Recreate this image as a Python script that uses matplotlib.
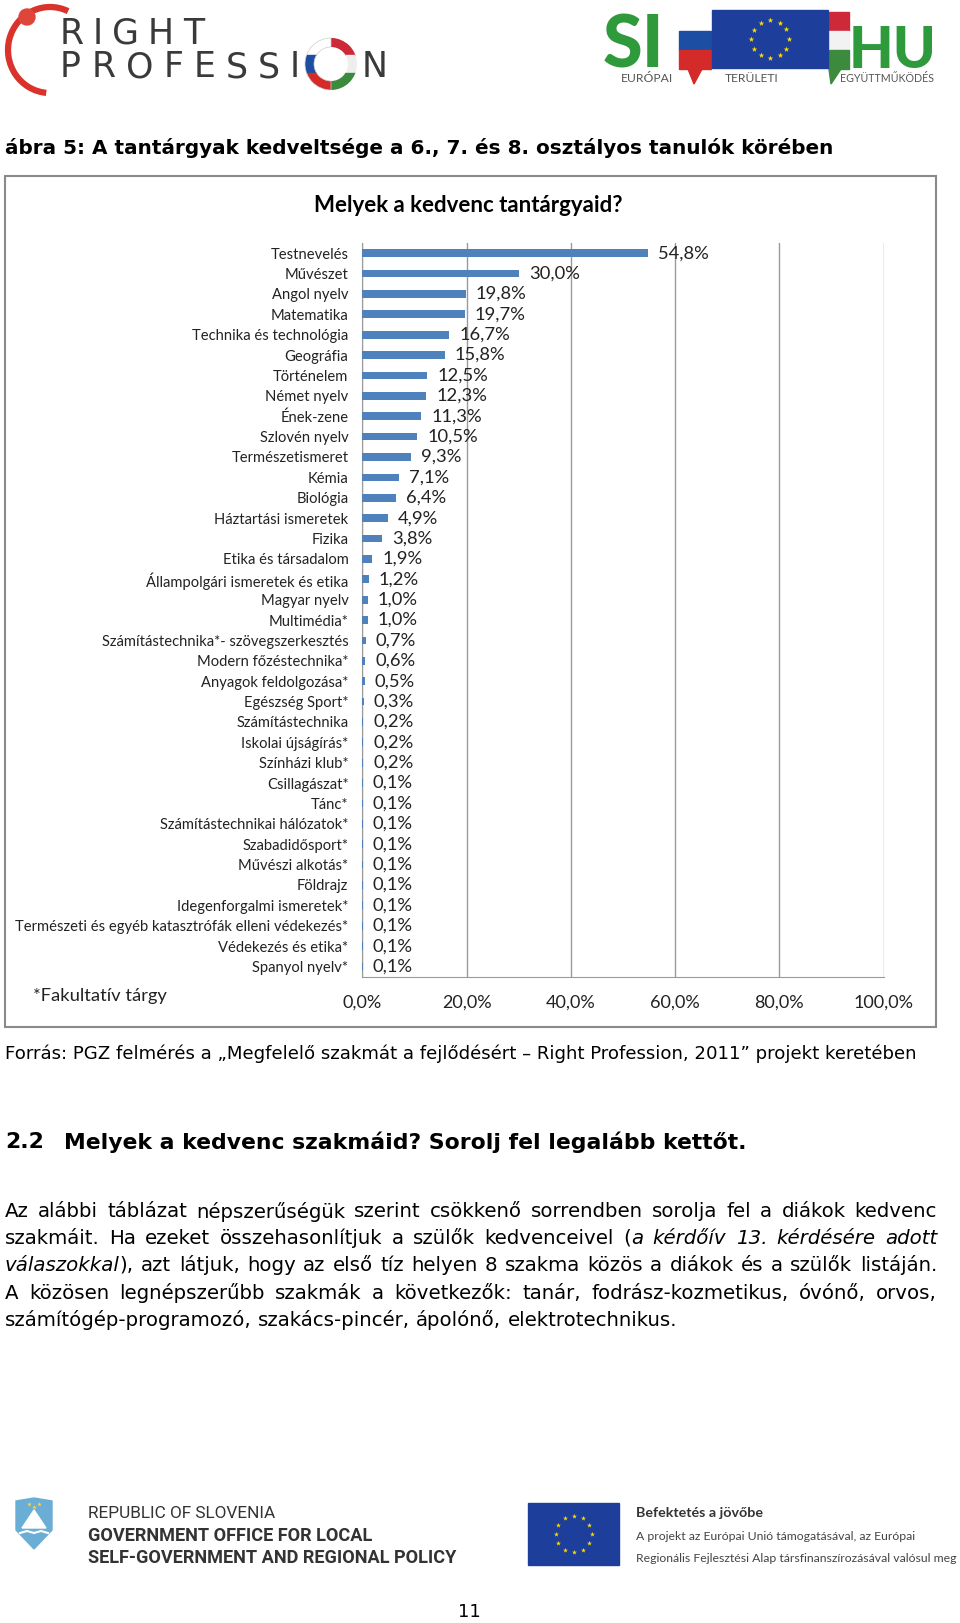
import numpy as np
import matplotlib
matplotlib.use("Agg")
import matplotlib.pyplot as plt
from matplotlib.patches import Rectangle, Circle, Wedge, Polygon, Arc

# chart data
subjects = [
    "Testnevelés", "Művészet", "Angol nyelv", "Matematika", "Technika és technológia",
    "Geográfia", "Történelem", "Német nyelv", "Ének-zene", "Szlovén nyelv",
    "Természetismeret", "Kémia", "Biológia", "Háztartási ismeretek", "Fizika",
    "Etika és társadalom", "Állampolgári ismeretek és etika", "Magyar nyelv", "Multimédia*",
    "Számítástechnika*- szövegszerkesztés", "Modern főzéstechnika*", "Anyagok feldolgozása*",
    "Egészség Sport*", "Számítástechnika", "Iskolai újságírás*", "Színházi klub*",
    "Csillagászat*", "Tánc*", "Számítástechnikai hálózatok*", "Szabadidősport*",
    "Művészi alkotás*", "Földrajz", "Idegenforgalmi ismeretek*",
    "Természeti és egyéb katasztrófák elleni védekezés*", "Védekezés és etika*", "Spanyol nyelv*",
]
percent = [54.8, 30.0, 19.8, 19.7, 16.7, 15.8, 12.5, 12.3, 11.3, 10.5,
           9.3, 7.1, 6.4, 4.9, 3.8, 1.9, 1.2, 1.0, 1.0, 0.7,
           0.6, 0.5, 0.3, 0.2, 0.2, 0.2, 0.1, 0.1, 0.1, 0.1,
           0.1, 0.1, 0.1, 0.1, 0.1, 0.1]
ticks = [0, 20, 40, 60, 80, 100]
tick_labels = ["0,0%", "20,0%", "40,0%", "60,0%", "80,0%", "100,0%"]

# page text
caption = "ábra 5: A tantárgyak kedveltsége a 6., 7. és 8. osztályos tanulók körében"
chart_title = "Melyek a kedvenc tantárgyaid?"
footnote = "*Fakultatív tárgy"
source = "Forrás: PGZ felmérés a „Megfelelő szakmát a fejlődésért – Right Profession, 2011” projekt keretében"
heading_no = "2.2"
heading = "Melyek a kedvenc szakmáid? Sorolj fel legalább kettőt."
# _ switches italics on / off
paragraph = [
    "Az alábbi táblázat népszerűségük szerint csökkenő sorrendben sorolja fel a diákok kedvenc",
    "szakmáit. Ha ezeket összehasonlítjuk a szülők kedvenceivel (_a kérdőív 13. kérdésére adott_",
    "_válaszokkal_), azt látjuk, hogy az első tíz helyen 8 szakma közös a diákok és a szülők listáján.",
    "A közösen legnépszerűbb szakmák a következők: tanár, fodrász-kozmetikus, óvónő, orvos,",
    "számítógép-programozó, szakács-pincér, ápolónő, elektrotechnikus.",
]
footer_left = ["REPUBLIC OF SLOVENIA", "GOVERNMENT OFFICE FOR LOCAL",
               "SELF-GOVERNMENT AND REGIONAL POLICY"]
footer_right = ["Befektetés a jövőbe", "A projekt az Európai Unió támogatásával, az Európai",
                "Regionális Fejlesztési Alap társfinanszírozásával valósul meg"]

W, H = 960, 1623
fig = plt.figure(figsize=(W / 100, H / 100), dpi=100)
fig.patch.set_facecolor("white")
page = fig.add_axes([0, 0, 1, 1])
page.set_xlim(0, W)
page.set_ylim(H, 0)
page.axis("off")
r = fig.canvas.get_renderer()

DOC = "DejaVu Sans"
CHART = "Lato"
BLUE = "#4f81bd"
GRID = "#9a9a9a"


def width_of(t):
    return t.get_window_extent(r).width


def fit(t, target):
    t.set_fontsize(t.get_fontsize() * target / width_of(t))
    return t


def spaced(x0, x1, y, s, **kw):
    # letter spaced logo text, first glyph starts at x0, last ends at x1
    chars = [page.text(0, y, ch, **kw) for ch in s]
    widths = [width_of(c) for c in chars]
    gap = (x1 - x0 - sum(widths)) / (len(s) - 1)
    x = x0
    for c, w in zip(chars, widths):
        c.set_x(x)
        x += w + gap


# ---- header logos ----
page.add_patch(Arc((50, 50), 84, 86, theta1=95, theta2=295, color="#d9332b", lw=4.5))
page.add_patch(Circle((27, 17), 8, color="#e0453c"))
logo_kw = dict(fontsize=25, family=DOC, color="#3a3a3a", va="baseline")
spaced(60, 204, 44, "RIGHT", **logo_kw)
spaced(60, 300, 77, "PROFESSI", **logo_kw)
page.text(362, 77, "N", **logo_kw)
# ring in Slovene / Hungarian colours
ring_l = Wedge((331, 64), 26, 90, 270, width=9, transform=page.transData)
ring_r = Wedge((331, 64), 26, -90, 90, width=9, transform=page.transData)
for i, c in enumerate(["white", "#1c4ea3", "#d42a2a"]):
    rect = Rectangle((300, 38 + i * 17.3), 32, 17.3, color=c)
    page.add_patch(rect)
    rect.set_clip_path(ring_l)
for i, c in enumerate(["#ce2939", "#eeeeee", "#3c8a3e"]):
    rect = Rectangle((330, 38 + i * 17.3), 32, 17.3, color=c)
    page.add_patch(rect)
    rect.set_clip_path(ring_r)
page.add_patch(Wedge((331, 64), 26, 90, 270, width=9, fill=False, ec="#cccccc", lw=0.5))

GREEN = "#2f9a3c"
page.text(603, 68, "SI", fontsize=52, family=CHART, weight="black", color=GREEN, va="baseline")
t = page.text(849, 68, "HU", fontsize=52, family=CHART, weight="black", color=GREEN, va="baseline")
fit(t, 88)
for i, c in enumerate(["white", "#1c4ea3", "#d42a2a"]):
    page.add_patch(Rectangle((679, 12 + i * 19), 32, 19, color=c))
page.add_patch(Polygon([(688, 69), (702, 69), (694, 84)], color="#d42a2a"))
for i, c in enumerate(["#ce2939", "#f2f2f2", "#3c8a3e"]):
    page.add_patch(Rectangle((829, 12 + i * 19), 20, 19, color=c))
page.add_patch(Polygon([(829, 69), (841, 69), (831, 84)], color="#3c8a3e"))
page.add_patch(Rectangle((712, 10), 116, 58, color="#1d3f9b"))
ang = np.linspace(0, 2 * np.pi, 13)[:-1]
page.scatter(770 + 19 * np.cos(ang), 39 + 19 * np.sin(ang), marker="*", s=18, color="#ffdd00", lw=0)
for x0, x1, s in [(621, 673, "EURÓPAI"), (725, 779, "TERÜLETI"), (840, 935, "EGYÜTTMŰKÖDÉS")]:
    t = page.text(x0, 79, s, fontsize=6, family=CHART, color="#555555", va="center")
    fit(t, x1 - x0)

# ---- caption ----
t = page.text(5, 148, caption, fontsize=13, family=DOC, weight="bold", va="center")
fit(t, 823)

# ---- chart frame ----
page.add_patch(Rectangle((5, 176), 931, 851, fill=False, ec="#8a8a8a", lw=1.5))
page.text(468, 205, chart_title, fontsize=16, family=CHART, weight="bold", ha="center", va="center")
page.text(33, 996, footnote, fontsize=13.2, family=CHART, color="#222222", va="center")

ax = fig.add_axes([362.3 / W, 1 - 976.7 / H, 521.4 / W, 733.7 / H])
ax.set_facecolor("none")
y = np.arange(len(subjects))
ax.barh(y, percent, height=0.38, color=BLUE, zorder=3)
ax.set_xlim(0, 100)
ax.set_ylim(len(subjects) - 0.5, -0.5)
ax.set_xticks(ticks)
ax.set_xticklabels(tick_labels, family=CHART, fontsize=13, color="#222222")
ax.set_yticks(y)
ax.set_yticklabels(subjects, family=CHART, fontsize=10.6, color="#222222")
ax.tick_params(axis="x", length=0, pad=13)
ax.tick_params(axis="y", length=0, pad=10)
ax.grid(axis="x", color=GRID, lw=1)
ax.set_axisbelow(True)
for s in ["top", "right"]:
    ax.spines[s].set_visible(False)
for s in ["left", "bottom"]:
    ax.spines[s].set_color(GRID)
for yi, v in zip(y, percent):
    ax.annotate(f"{v:.1f}".replace(".", ",") + "%", (v, yi), xytext=(10, 0),
                textcoords="offset pixels", va="center", family=CHART, fontsize=13.2,
                color="#222222", zorder=4)

# ---- text below chart ----
t = page.text(5, 1054, source, fontsize=12, family=DOC, va="center")
fit(t, 912)
t = page.text(64, 1142, heading, fontsize=14, family=DOC, weight="bold", va="center")
fit(t, 680)
page.text(5, 1142, heading_no, fontsize=t.get_fontsize(), family=DOC, weight="bold", va="center")

line_y = [1211.6, 1238.5, 1265.4, 1293.4, 1320.3]
FS = 14.2
for n, (line, ly) in enumerate(zip(paragraph, line_y)):
    words = []
    ital = False
    for w in line.split(" "):
        segs = []
        for k, part in enumerate(w.split("_")):
            if k > 0:
                ital = not ital
            if part:
                segs.append((part, ital))
        words.append(segs)
    fs = FS
    while True:
        texts = []
        total = 0
        for segs in words:
            wt = []
            for part, it in segs:
                tt = page.text(0, ly, part, fontsize=fs, family=DOC,
                               style="italic" if it else "normal", va="center")
                wt.append(tt)
            ww = sum(width_of(tt) for tt in wt)
            texts.append((wt, ww))
            total += ww
        if total + 3 * (len(words) - 1) <= 932:
            break
        for wt, ww in texts:
            for tt in wt:
                tt.remove()
        fs -= 0.2
    if n < len(paragraph) - 1:
        gap = (932 - total) / (len(words) - 1)
    else:
        gap = fs * 100 / 72 * 0.32
    x = 5
    for wt, ww in texts:
        xx = x
        for tt in wt:
            tt.set_x(xx)
            xx += width_of(tt)
        x += ww + gap

# ---- footer ----
page.add_patch(Polygon([(16, 1501), (34, 1498), (52, 1501), (52, 1530), (34, 1549), (16, 1530)],
                       color="#6aaed6"))
page.add_patch(Polygon([(22, 1528), (34, 1510), (46, 1528)], color="white"))
page.plot([20, 27, 34, 41, 48], [1533, 1531, 1533, 1531, 1533], color="white", lw=1.5)
page.scatter([29, 34, 39], [1504, 1507, 1504], marker="*", s=12, color="#ffd24a", lw=0)
for s, ly, wgt, wd in zip(footer_left, [1513, 1536, 1558], ["normal", "bold", "bold"], [188, 284, 369]):
    t = page.text(88, ly, s, fontsize=12, family="Roboto", weight=wgt, color="#333333", va="center")
    fit(t, wd)

page.add_patch(Rectangle((528, 1503), 91, 62, color="#1d3f9b"))
page.scatter(573.5 + 18 * np.cos(ang), 1534 + 18 * np.sin(ang), marker="*", s=14, color="#ffdd00", lw=0)
t = page.text(636, 1513, footer_right[0], fontsize=10, family=CHART, weight="bold", color="#333333", va="center")
fit(t, 128)
t = page.text(636, 1536, footer_right[1], fontsize=9, family=CHART, color="#444444", va="center")
fit(t, 282)
t = page.text(636, 1558, footer_right[2], fontsize=9, family=CHART, color="#444444", va="center")
fit(t, 322)

page.text(469, 1612, "11", fontsize=13, family=DOC, ha="center", va="center")

fig.savefig("out.png", dpi=100)
